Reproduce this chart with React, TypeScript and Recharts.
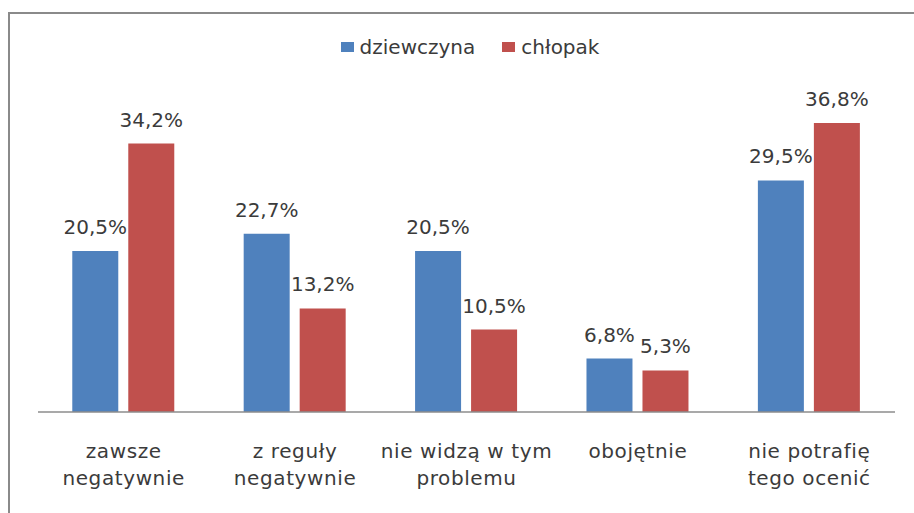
import { Bar, BarChart, LabelList, Legend, XAxis, YAxis } from "recharts";

const categories = [
    ["zawsze", "negatywnie"],
    ["z reguły", "negatywnie"],
    ["nie widzą w tym", "problemu"],
    ["obojętnie"],
    ["nie potrafię", "tego ocenić"],
]
const dziewczyna = [20.5, 22.7, 20.5, 6.8, 29.5]
const chlopak = [34.2, 13.2, 10.5, 5.3, 36.8]
const seriesNames = ["dziewczyna", "chłopak"]
const colors = ["#4f81bd", "#c0504d"]

const FONT = "'DejaVu Sans', sans-serif"
const TEXT = "#3b3b3b"

const data = categories.map((lines, i) => ({
    name: lines.join(" "),
    lines,
    dziewczyna: dziewczyna[i],
    chlopak: chlopak[i],
}))

const fmt = (v: number) => `${v.toFixed(1).replace(".", ",")}%`

const CategoryTick = ({ x, y, payload, index }: any) => {
    const lines = categories[index] ?? [payload.value]
    return (
        <text x={x} y={y} textAnchor="middle" fill={TEXT} fontFamily={FONT} fontSize={20} letterSpacing={0.6}>
            {lines.map((l, i) => (
                <tspan key={i} x={x} dy={i === 0 ? 46 : 27}>{l}</tspan>
            ))}
        </text>
    )
}

const LegendContent = () => (
    <div style={{ height: 28, display: "flex", justifyContent: "center", alignItems: "center", paddingLeft: 26, fontFamily: FONT, fontSize: 20, color: TEXT }}>
        {seriesNames.map((s, i) => (
            <div key={s} style={{ display: "flex", alignItems: "center", marginRight: i === 0 ? 27 : 0 }}>
                <span style={{ display: "inline-block", width: 13, height: 10, background: colors[i], marginRight: 6 }} />
                <span>{s}</span>
            </div>
        ))}
    </div>
)

const App = () => {
    return (
        <div style={{ position: "absolute", left: 0, top: 0, width: 914, height: 513, background: "#fff", overflow: "hidden" }}>
            <div style={{ position: "absolute", left: 8, top: 12, width: 950, height: 560, borderLeft: "2px solid #8a8a8a", borderTop: "2px solid #8a8a8a" }} />
            <BarChart width={914} height={513} data={data} margin={{ top: 70, right: 19, bottom: 11, left: 38 }} barCategoryGap="20%" barGap={10}>
                <Legend verticalAlign="top" content={<LegendContent />} wrapperStyle={{ top: 33, left: 0, width: 914 }} />
                <YAxis hide domain={[0, 40]} />
                <XAxis dataKey="name" height={90} tickLine={false} tickSize={0} tickMargin={0} interval={0} axisLine={{ stroke: "#8c8c8c", strokeWidth: 1.5 }} tick={<CategoryTick />} />
                <Bar dataKey="dziewczyna" name={seriesNames[0]} fill={colors[0]} isAnimationActive={false}>
                    <LabelList dataKey="dziewczyna" position="top" offset={17} formatter={(v: any) => fmt(v)} fill={TEXT} fontFamily={FONT} fontSize={20} />
                </Bar>
                <Bar dataKey="chlopak" name={seriesNames[1]} fill={colors[1]} isAnimationActive={false}>
                    <LabelList dataKey="chlopak" position="top" offset={17} formatter={(v: any) => fmt(v)} fill={TEXT} fontFamily={FONT} fontSize={20} />
                </Bar>
            </BarChart>
        </div>
    )
}

export default App
